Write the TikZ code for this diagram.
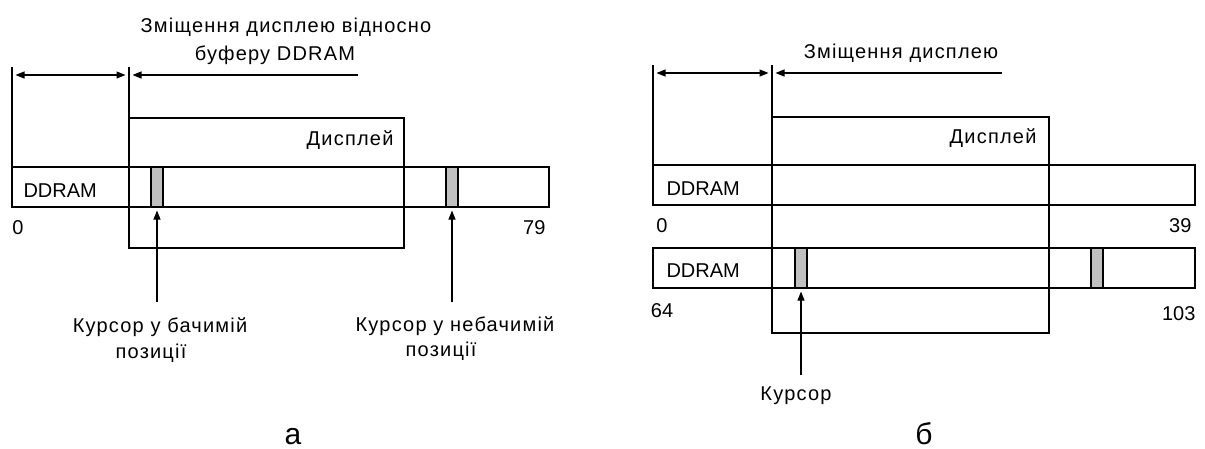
\documentclass[tikz,border=0pt]{standalone}
\usepackage{fontspec}
\setmainfont{Liberation Sans}
\newfontfamily\cyrfont[LetterSpace=6]{Liberation Sans}
\usetikzlibrary{arrows.meta}
\definecolor{curgray}{HTML}{C0C0C0}
\begin{document}
\begin{tikzpicture}[x=1pt,y=-1pt,
  line width=1.1pt,
  lbl/.style={font=\fontsize{20}{22}\selectfont, inner sep=0pt, anchor=base},
  clbl/.style={font=\fontsize{20}{22}\selectfont\cyrfont, inner sep=0pt, anchor=base},
  big/.style={font=\fontsize{30}{34}\selectfont, inner sep=0pt, anchor=base},
  cur/.style={draw, fill=curgray, minimum width=12pt, minimum height=40pt, inner sep=0pt, line width=1.1pt},
  arr/.style={-{Triangle[length=9pt,width=7pt]}, shorten >=3pt},
  dim/.style={{Triangle[length=9pt,width=7pt]}-{Triangle[length=9pt,width=7pt]}, shorten >=3.5pt, shorten <=3.5pt},
  dimone/.style={{Triangle[length=9pt,width=7pt]}-, shorten <=3.5pt},
]
\useasboundingbox (0,0) rectangle (1205,448);

% ---------------- (a) ----------------
\coordinate (aLt) at (12,67);
\coordinate (aLb) at (12,207);
\coordinate (aDt) at (129,67);
\coordinate (aDb) at (129,248);
\coordinate (aL) at (12,75);
\coordinate (aD) at (129,75);
\coordinate (aE) at (358,75);
\draw (aLt) -- (aLb);
\draw (aDt) -- (aDb);
\draw (129,118) rectangle (404,248);
\draw (12,167) rectangle (549,207);
\draw[dim] (aL) -- (aD);
\draw[dimone] (aD) -- (aE);
\node[cur] (ac1) at (157,187) {};
\node[cur] (ac2) at (452,187) {};
\coordinate (aa1) at (157,302);
\coordinate (aa2) at (452,302);
\draw[arr] (aa1) -- (ac1.south);
\draw[arr] (aa2) -- (ac2.south);

\node[clbl] (at1) at (286,32) {Зміщення дисплею відносно};
\node[clbl] (at2) at (275,60) {буферу DDRAM};
\node[clbl, anchor=base east] (adisp) at (394,145) {Дисплей};
\node[lbl, anchor=base west] (addr) at (23,197) {DDRAM};
\node[lbl] (a0) at (18,234) {0};
\node[lbl, anchor=base east] (a79) at (546,234) {79};
\node[clbl] (ak1) at (160,332) {Курсор у бачимій};
\node[clbl] (ap1) at (151,358) {позиції};
\node[clbl] (ak2) at (455,331) {Курсор у небачимій};
\node[clbl] (ap2) at (441,356) {позиції};
\node[big] (aa) at (293,444) {а};

% ---------------- (b) ----------------
\coordinate (bLt) at (653,65);
\coordinate (bLb) at (653,205);
\coordinate (bDt) at (772,65);
\coordinate (bDb) at (772,333);
\coordinate (bL) at (653,73);
\coordinate (bD) at (772,73);
\coordinate (bE) at (1002,73);
\draw (bLt) -- (bLb);
\draw (bDt) -- (bDb);
\draw (772,117) rectangle (1049,333);
\draw (653,165) rectangle (1195,205);
\draw (653,248) rectangle (1195,288);
\draw[dim] (bL) -- (bD);
\draw[dimone] (bD) -- (bE);
\node[cur] (bc1) at (801,268) {};
\node[cur] (bc2) at (1097,268) {};
\coordinate (ba1) at (801,375);
\draw[arr] (ba1) -- (bc1.south);

\node[clbl] (bt) at (901,58) {Зміщення дисплею};
\node[clbl, anchor=base east] (bdisp) at (1037,143) {Дисплей};
\node[lbl, anchor=base west] (bddr1) at (666,195) {DDRAM};
\node[lbl, anchor=base west] (bddr2) at (666,277) {DDRAM};
\node[lbl] (b0) at (662,232) {0};
\node[lbl, anchor=base east] (b39) at (1192,232) {39};
\node[lbl] (b64) at (662,317) {64};
\node[lbl, anchor=base east] (b103) at (1196,320) {103};
\node[clbl] (bk) at (796,400) {Курсор};
\node[big] (bb) at (924,444) {б};
\end{tikzpicture}
\end{document}
